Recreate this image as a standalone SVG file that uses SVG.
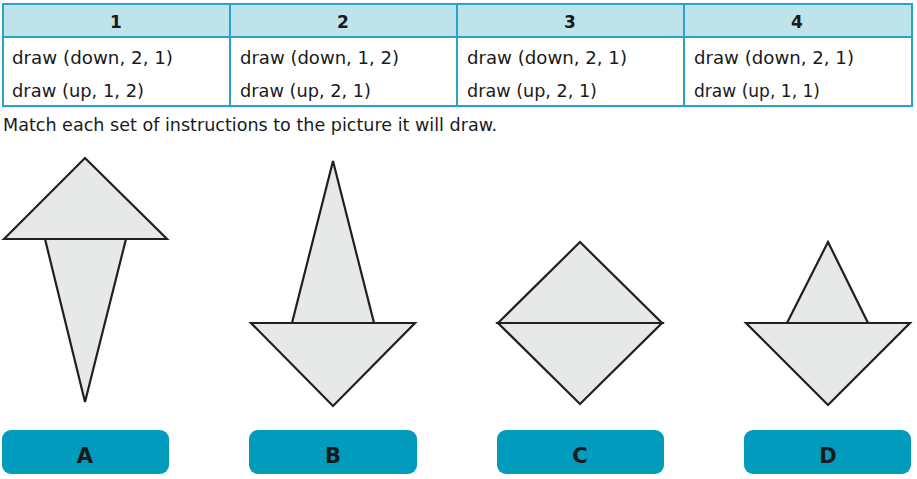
<svg xmlns="http://www.w3.org/2000/svg" width="917" height="479" viewBox="0 0 917 479">
<style>
.hdr{fill:#bfe3ea}
.grid{fill:none;stroke:#2ba3c6;stroke-width:2}
.ht{font-family:"DejaVu Sans","Liberation Sans",sans-serif;font-weight:bold;font-size:17px;fill:#1a1a1a;text-anchor:middle}
.ct{font-family:"DejaVu Sans","Liberation Sans",sans-serif;font-size:17px;fill:#1a1a1a}
.sub{font-family:"DejaVu Sans","Liberation Sans",sans-serif;font-size:18px;fill:#1a1a1a}
.shp{fill:#e7e8e8;stroke:#231f20;stroke-width:2.2;stroke-linejoin:miter}
.btn{fill:#009bbd}
.bt{font-family:"DejaVu Sans","Liberation Sans",sans-serif;font-weight:bold;font-size:21px;fill:#1a1a1a;text-anchor:middle}
</style>
<g id="table">
<rect class="hdr" x="3" y="4" width="909" height="33"/>
<rect class="grid" x="3" y="4" width="909" height="102"/>
<line class="grid" x1="3" y1="37" x2="912" y2="37"/>
<line class="grid" x1="230" y1="4" x2="230" y2="106"/>
<line class="grid" x1="457" y1="4" x2="457" y2="106"/>
<line class="grid" x1="684" y1="4" x2="684" y2="106"/>
<text class="ht" x="116" y="28">1</text>
<text class="ht" x="343" y="28">2</text>
<text class="ht" x="570" y="28">3</text>
<text class="ht" x="797" y="28">4</text>
<text class="ct" x="12" y="64" textLength="161" lengthAdjust="spacingAndGlyphs">draw (down, 2, 1)</text>
<text class="ct" x="12" y="97" textLength="132" lengthAdjust="spacingAndGlyphs">draw (up, 1, 2)</text>
<text class="ct" x="240" y="64" textLength="159" lengthAdjust="spacingAndGlyphs">draw (down, 1, 2)</text>
<text class="ct" x="240" y="97" textLength="131" lengthAdjust="spacingAndGlyphs">draw (up, 2, 1)</text>
<text class="ct" x="467" y="64" textLength="160" lengthAdjust="spacingAndGlyphs">draw (down, 2, 1)</text>
<text class="ct" x="467" y="97" textLength="130" lengthAdjust="spacingAndGlyphs">draw (up, 2, 1)</text>
<text class="ct" x="694" y="64" textLength="160" lengthAdjust="spacingAndGlyphs">draw (down, 2, 1)</text>
<text class="ct" x="694" y="97" textLength="126" lengthAdjust="spacingAndGlyphs">draw (up, 1, 1)</text>
</g>
<text class="sub" x="3" y="131" textLength="494" lengthAdjust="spacingAndGlyphs">Match each set of instructions to the picture it will draw.</text>
<g id="shapeA">
<polygon class="shp" points="45,239 126,239 85,402"/>
<polygon class="shp" points="4,239 85,158 167,239"/>
</g>
<g id="shapeB">
<polygon class="shp" points="292,323 333,161 374,323"/>
<polygon class="shp" points="251,323 415,323 333,406"/>
</g>
<g id="shapeC">
<polygon class="shp" points="498,323 580,242 662,323"/>
<polygon class="shp" points="498,323 662,323 580,404"/>
</g>
<g id="shapeD">
<polygon class="shp" points="787,323 828,242 868,323"/>
<polygon class="shp" points="746,323 910,323 828,405"/>
</g>
<g id="btnA"><rect class="btn" x="2" y="430" width="167" height="44" rx="9"/><text class="bt" x="85" y="463">A</text></g>
<g id="btnB"><rect class="btn" x="249" y="430" width="168" height="44" rx="9"/><text class="bt" x="333" y="463">B</text></g>
<g id="btnC"><rect class="btn" x="497" y="430" width="167" height="44" rx="9"/><text class="bt" x="580" y="463">C</text></g>
<g id="btnD"><rect class="btn" x="744" y="430" width="167" height="44" rx="9"/><text class="bt" x="828" y="463">D</text></g>
<g id="connectors"/>
</svg>
